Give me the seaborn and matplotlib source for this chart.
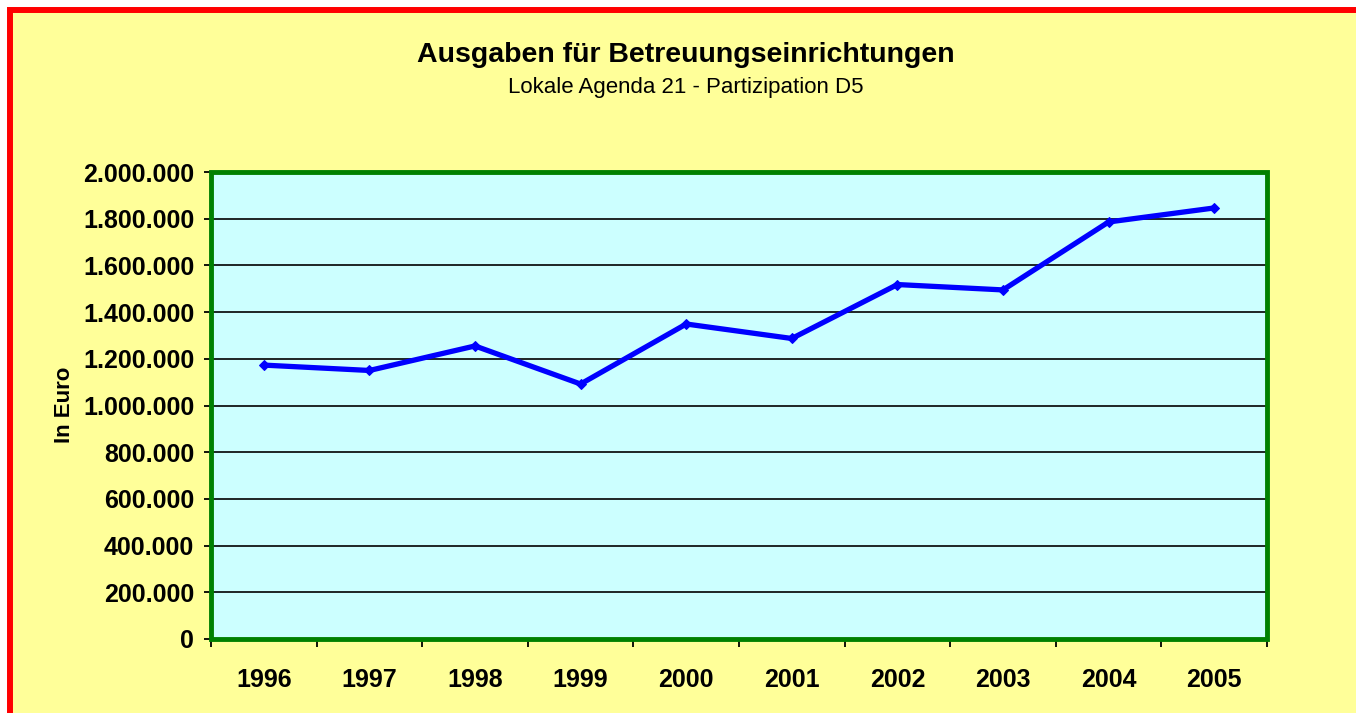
import numpy as np
import pandas as pd
import matplotlib
matplotlib.use("Agg")
import matplotlib.pyplot as plt
import matplotlib.patches as patches
from matplotlib.ticker import FuncFormatter, MultipleLocator, FixedLocator
import seaborn as sns

# data
years = [1996, 1997, 1998, 1999, 2000, 2001, 2002, 2003, 2004, 2005]
ausgaben = [1173000, 1150000, 1255000, 1092000, 1349000,
            1287000, 1518000, 1495000, 1786000, 1846000]

title = "Ausgaben für Betreuungseinrichtungen"
subtitle = "Lokale Agenda 21 - Partizipation D5"
ylabel = "In Euro"

BG = "#FFFF99"
PLOT_BG = "#CCFFFF"
LINE = "#0000FF"
GREEN = "#008000"

sns.set_theme(style="white")
plt.rcParams["font.family"] = ["Liberation Sans", "DejaVu Sans"]
plt.rcParams["text.color"] = "black"
plt.rcParams["xtick.color"] = "black"
plt.rcParams["ytick.color"] = "black"
plt.rcParams["axes.labelcolor"] = "black"

df = pd.DataFrame({"Jahr": years, "Euro": ausgaben})

W, H = 1356, 713
fig = plt.figure(figsize=(W / 100, H / 100), dpi=100)
fig.patch.set_facecolor("white")

# yellow chart area with red frame (only top and left visible)
frame = patches.Rectangle(
    (10 / W, -20 / H), (W + 20) / W, (H + 10) / H,
    transform=fig.transFigure, facecolor=BG, edgecolor="#FF0000",
    linewidth=4.3, zorder=-10,
)
fig.patches.append(frame)

ax = fig.add_axes([211 / W, 1 - 639 / H, (1267 - 211) / W, (639 - 172) / H])
ax.set_facecolor(PLOT_BG)

sns.lineplot(data=df, x="Jahr", y="Euro", ax=ax, color=LINE, linewidth=3.8,
             marker="D", markersize=5, markeredgecolor=LINE, zorder=5)

ax.set_xlim(1995.5, 2005.5)
ax.set_ylim(0, 2000000)
ax.yaxis.set_major_locator(MultipleLocator(200000))
ax.yaxis.set_major_formatter(
    FuncFormatter(lambda v, p: f"{v:,.0f}".replace(",", "."))
)
ax.xaxis.set_major_locator(FixedLocator(years))
ax.xaxis.set_major_formatter(FuncFormatter(lambda v, p: f"{int(round(v))}"))
ax.xaxis.set_minor_locator(FixedLocator(np.arange(1995.5, 2006, 1.0)))

ax.grid(axis="y", color="black", linewidth=1.2)
ax.set_axisbelow(True)

for s in ["top", "right"]:
    ax.spines[s].set_visible(False)
for s in ["left", "bottom"]:
    ax.spines[s].set_color("black")
    ax.spines[s].set_linewidth(1.5)

ax.add_patch(patches.Rectangle((0, 0), 1, 1, transform=ax.transAxes,
                               fill=False, edgecolor=GREEN, linewidth=3.5,
                               clip_on=False, zorder=3))

ax.tick_params(axis="y", which="major", direction="out", length=5, width=1.3,
               color="black", pad=7, labelsize=18, left=True)
ax.tick_params(axis="x", which="major", length=0, pad=21, labelsize=18)
ax.tick_params(axis="x", which="minor", direction="out", length=6, width=1.3,
               color="black", bottom=True)
for lab in ax.get_xticklabels() + ax.get_yticklabels():
    lab.set_fontweight("bold")

ax.set_xlabel("")
ax.set_ylabel("")

fig.text(64 / W, 1 - 405 / H, ylabel, rotation=90, ha="center", va="center",
         fontsize=16, fontweight="bold")
fig.text(686 / W, 1 - 55 / H, title, ha="center", va="center",
         fontsize=20.5, fontweight="bold")
fig.text(686 / W, 1 - 88 / H, subtitle, ha="center", va="center",
         fontsize=16)

fig.savefig("out.png", dpi=100, facecolor=fig.get_facecolor())
